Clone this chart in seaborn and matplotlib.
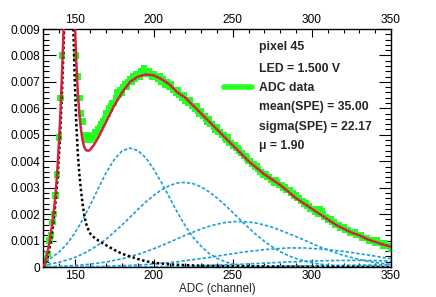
import numpy as np
import pandas as pd
import matplotlib
matplotlib.use('Agg')
import matplotlib.pyplot as plt
from matplotlib.lines import Line2D
from matplotlib.ticker import MultipleLocator, FuncFormatter
import seaborn as sns

# ADC histogram (1 channel bins)
adc_x = list(range(131, 351))
adc_y = [0.0000, 0.0003, 0.0005, 0.0010, 0.0012, 0.0017, 0.0020, 0.0027, 0.0035, 0.0049,
         0.0064, 0.0080, 0.0095, 0.0115, 0.0140, 0.0165, 0.0168, 0.0148, 0.0118, 0.0097,
         0.0080, 0.0072, 0.0064, 0.0058, 0.0055, 0.0050, 0.0048, 0.0050, 0.0049, 0.0048,
         0.0050, 0.0049, 0.0051, 0.0050, 0.0052, 0.0053, 0.0054, 0.0055, 0.0056, 0.0058,
         0.0058, 0.0060, 0.0061, 0.0062, 0.0062, 0.0064, 0.0066, 0.0065, 0.0067, 0.0066,
         0.0068, 0.0069, 0.0068, 0.0070, 0.0071, 0.0070, 0.0072, 0.0071, 0.0073, 0.0073,
         0.0072, 0.0074, 0.0073, 0.0075, 0.0074, 0.0073, 0.0074, 0.0073, 0.0072, 0.0073,
         0.0072, 0.0072, 0.0071, 0.0072, 0.0070, 0.0071, 0.0069, 0.0070, 0.0069, 0.0068,
         0.0069, 0.0067, 0.0067, 0.0066, 0.0067, 0.0065, 0.0065, 0.0064, 0.0065, 0.0063,
         0.0063, 0.0062, 0.0063, 0.0061, 0.0061, 0.0060, 0.0061, 0.0059, 0.0058, 0.0059,
         0.0057, 0.0057, 0.0056, 0.0055, 0.0056, 0.0054, 0.0054, 0.0053, 0.0052, 0.0053,
         0.0051, 0.0051, 0.0050, 0.0050, 0.0049, 0.0048, 0.0049, 0.0047, 0.0047, 0.0046,
         0.0046, 0.0045, 0.0045, 0.0044, 0.0043, 0.0043, 0.0042, 0.0042, 0.0041, 0.0040,
         0.0040, 0.0039, 0.0039, 0.0038, 0.0038, 0.0037, 0.0036, 0.0036, 0.0035, 0.0035,
         0.0035, 0.0034, 0.0034, 0.0033, 0.0033, 0.0032, 0.0033, 0.0032, 0.0031, 0.0031,
         0.0031, 0.0030, 0.0030, 0.0029, 0.0029, 0.0029, 0.0028, 0.0028, 0.0027, 0.0027,
         0.0026, 0.0026, 0.0025, 0.0025, 0.0024, 0.0024, 0.0023, 0.0023, 0.0022, 0.0022,
         0.0022, 0.0021, 0.0021, 0.0020, 0.0022, 0.0021, 0.0020, 0.0019, 0.0019, 0.0018,
         0.0018, 0.0018, 0.0017, 0.0017, 0.0016, 0.0016, 0.0016, 0.0015, 0.0015, 0.0015,
         0.0014, 0.0014, 0.0014, 0.0013, 0.0013, 0.0013, 0.0013, 0.0012, 0.0012, 0.0012,
         0.0012, 0.0011, 0.0011, 0.0011, 0.0011, 0.0010, 0.0010, 0.0010, 0.0010, 0.0009,
         0.0010, 0.0009, 0.0009, 0.0009, 0.0008, 0.0009, 0.0008, 0.0008, 0.0008, 0.0007]

# total fit (red)
fit_x = list(range(130, 161)) + [162] + list(range(165, 351, 5))
fit_y = [0.0000, 0.0001, 0.0003, 0.0006, 0.0009, 0.0013, 0.0017, 0.0022, 0.0028, 0.0036,
         0.0046, 0.0058, 0.0073, 0.0090, 0.0110, 0.0140, 0.0170, 0.0170, 0.0150, 0.0120,
         0.0095, 0.0078, 0.0066, 0.0058, 0.0052, 0.0048, 0.00455, 0.00443, 0.0044, 0.0044,
         0.00445, 0.0046,
         0.0049, 0.0055, 0.0061, 0.0066, 0.0070, 0.0072, 0.00728, 0.00725, 0.0071, 0.0069,
         0.0066, 0.0064, 0.0061, 0.0058, 0.0055, 0.0052, 0.0049, 0.0046, 0.0043, 0.0040,
         0.00375, 0.0035, 0.0033, 0.0031, 0.00285, 0.0026, 0.0024, 0.0022, 0.0020, 0.0018,
         0.0016, 0.00145, 0.0013, 0.0012, 0.00105, 0.00095, 0.00085, 0.00077]

# pedestal (black dotted)
ped_x = [130, 131, 132, 133, 134, 135, 136, 137, 138, 139, 140, 141, 142, 143, 144, 145,
         146, 147, 148, 149, 150, 151, 152, 153, 154, 155, 156, 157, 158, 160, 162, 165,
         170, 175, 180, 185, 190, 195, 200, 210, 220, 230, 240, 250, 270, 300, 350]
ped_y = [0.0, 0.00005, 0.0002, 0.0004, 0.0007, 0.0010, 0.0014, 0.0019, 0.0025, 0.0032,
         0.0041, 0.0052, 0.0066, 0.0083, 0.0102, 0.0125, 0.0140, 0.0140, 0.0122, 0.0095,
         0.0072, 0.0055, 0.0043, 0.0035, 0.0029, 0.0024, 0.0020, 0.0017, 0.0015, 0.00125,
         0.00113, 0.0010, 0.00082, 0.00065, 0.0005, 0.0004, 0.0003, 0.00022, 0.00016, 0.0001,
         0.00007, 0.00005, 0.00004, 0.00003, 0.00002, 0.00001, 0.0]

# n photo-electron components (blue), every 5 channels from 130 to 350
comp_x = list(range(130, 351, 5))
pe1 = [0.0, 0.00034, 0.00056, 0.00086, 0.00127, 0.00178, 0.00236, 0.00298, 0.00357, 0.00406,
       0.00439, 0.00450, 0.00440, 0.00413, 0.00370, 0.00318, 0.00262, 0.00206, 0.00155, 0.00112,
       0.00078, 0.00051, 0.00033, 0.00020, 0.00011, 0.00006, 0.00003, 0.00002, 0.00001, 0.0,
       0.0, 0.0, 0.0, 0.0, 0.0, 0.0, 0.0, 0.0, 0.0, 0.0, 0.0, 0.0, 0.0, 0.0, 0.0]
pe2 = [0.00002, 0.00012, 0.00018, 0.00026, 0.00036, 0.00049, 0.00065, 0.00084, 0.00106, 0.00132,
       0.00159, 0.00188, 0.00218, 0.00246, 0.00271, 0.00292, 0.00308, 0.00318, 0.00320, 0.00315,
       0.00303, 0.00284, 0.00261, 0.00235, 0.00206, 0.00177, 0.00148, 0.00121, 0.00097, 0.00076,
       0.00058, 0.00043, 0.00032, 0.00023, 0.00016, 0.00011, 0.00007, 0.00005, 0.00003, 0.00002,
       0.00002, 0.00001, 0.00001, 0.00001, 0.0]
pe3 = [0.00001, 0.00002, 0.00003, 0.00004, 0.00006, 0.00008, 0.00011, 0.00015, 0.00019, 0.00025,
       0.00031, 0.00039, 0.00048, 0.00058, 0.00069, 0.00081, 0.00094, 0.00107, 0.00120, 0.00132,
       0.00144, 0.00154, 0.00162, 0.00168, 0.00171, 0.00172, 0.00170, 0.00166, 0.00159, 0.00150,
       0.00139, 0.00127, 0.00115, 0.00102, 0.00089, 0.00076, 0.00065, 0.00054, 0.00044, 0.00036,
       0.00028, 0.00022, 0.00017, 0.00013, 0.00010]
pe4 = [0.0, 0.0, 0.0, 0.00001, 0.00001, 0.00001, 0.00002, 0.00002, 0.00003, 0.00004,
       0.00005, 0.00006, 0.00008, 0.00009, 0.00012, 0.00014, 0.00017, 0.00020, 0.00024, 0.00028,
       0.00032, 0.00036, 0.00041, 0.00046, 0.00050, 0.00055, 0.00059, 0.00062, 0.00066, 0.00068,
       0.00070, 0.00072, 0.00072, 0.00072, 0.00070, 0.00068, 0.00066, 0.00062, 0.00059, 0.00055,
       0.00050, 0.00046, 0.00041, 0.00036, 0.00032]
pe5 = [0.0, 0.0, 0.0, 0.0, 0.000001, 0.000001, 0.000002, 0.000002, 0.000003, 0.000004,
       0.000005, 0.000007, 0.00001, 0.000012, 0.000015, 0.000019, 0.000023, 0.000028, 0.000034, 0.000041,
       0.000049, 0.000058, 0.000068, 0.000079, 0.00009, 0.000103, 0.000117, 0.000131, 0.000146, 0.00016,
       0.000175, 0.00019, 0.0002, 0.000213, 0.000225, 0.000233, 0.00024, 0.000246, 0.00025, 0.00025,
       0.00025, 0.000248, 0.00024, 0.000232, 0.00022]
pe6 = [0.0, 0.0, 0.0, 0.0, 0.0, 0.0, 0.0, 0.0, 0.0, 0.0,
       0.0, 0.0, 0.000001, 0.000001, 0.000002, 0.000002, 0.000003, 0.000004, 0.000005, 0.000006,
       0.000007, 0.000009, 0.00001, 0.000012, 0.000013, 0.000015, 0.000018, 0.000021, 0.000024, 0.000027,
       0.00003, 0.000034, 0.000038, 0.000042, 0.000047, 0.000051, 0.000055, 0.000059, 0.000063, 0.000067,
       0.00007, 0.000073, 0.000076, 0.000078, 0.000079]

labels = ['pixel 45', 'LED = 1.500 V', 'mean(SPE) = 35.00', 'sigma(SPE) = 22.17', '\u03bc = 1.90']

green = '#22ff22'
blue = '#1ba0d6'
red = '#e8232a'

sns.set_theme(style='ticks')
plt.rcParams['font.family'] = ['Liberation Sans', 'DejaVu Sans']
plt.rcParams['axes.linewidth'] = 1.0

fig = plt.figure(figsize=(4.36, 2.97), dpi=100)
ax = fig.add_axes([43 / 436, 1 - 267 / 297, 348 / 436, 238 / 297])

sns.scatterplot(x=adc_x, y=adc_y, ax=ax, marker='s', s=21, color=green, edgecolor='none',
                linewidth=0, legend=False, zorder=2)

for comp in [pe1, pe2, pe3, pe4, pe5, pe6]:
    sns.lineplot(x=comp_x, y=comp, ax=ax, color=blue, lw=1.2, linestyle=(0, (2, 1.2)),
                 legend=False, zorder=3)

sns.lineplot(x=ped_x, y=ped_y, ax=ax, color='black', lw=1.8, linestyle=(0, (1, 1)),
             legend=False, zorder=4)
sns.lineplot(x=fit_x, y=fit_y, ax=ax, color=red, lw=1.8, legend=False, zorder=5)
sns.lineplot(x=fit_x, y=fit_y, ax=ax, color='#2030ff', lw=0.7, linestyle=(0, (1, 3)),
             legend=False, zorder=6)

ax.set_xlim(130, 350)
ax.set_ylim(0, 0.009)
ax.xaxis.set_major_locator(MultipleLocator(50))
ax.xaxis.set_minor_locator(MultipleLocator(10))
ax.yaxis.set_major_locator(MultipleLocator(0.001))
ax.yaxis.set_minor_locator(MultipleLocator(0.0002))
ax.yaxis.set_major_formatter(FuncFormatter(lambda v, p: '0' if abs(v) < 1e-9 else '%.3f' % v))

ax.tick_params(which='both', direction='in', top=True, right=True, labeltop=True,
               labelsize=8.6, colors='black', pad=2)
ax.tick_params(axis='y', which='major', length=9, width=0.8)
ax.tick_params(axis='y', which='minor', length=4.5, width=0.8)
ax.tick_params(axis='x', which='major', length=6, width=0.8)
ax.tick_params(axis='x', which='minor', length=3, width=0.8)
for s in ax.spines.values():
    s.set_color('black')

ax.set_xlabel('ADC (channel)', fontsize=8.4, labelpad=1)
ax.set_ylabel('')

# text box on the right
ys = [47, 69, 107, 127, 146]
for t, y in zip(labels, ys):
    fig.text(259 / 436, 1 - y / 297, t, ha='left', va='center', fontsize=8.8, fontweight='bold')

fig.legend(handles=[Line2D([0], [0], color=green, lw=4)], labels=['ADC data'],
           loc='center left', bbox_to_anchor=(224 / 436, 1 - 88 / 297), frameon=False,
           handlelength=2.3, handletextpad=0.55, borderpad=0, borderaxespad=0,
           prop={'weight': 'bold', 'size': 8.8})

fig.savefig('out.png', dpi=100)
